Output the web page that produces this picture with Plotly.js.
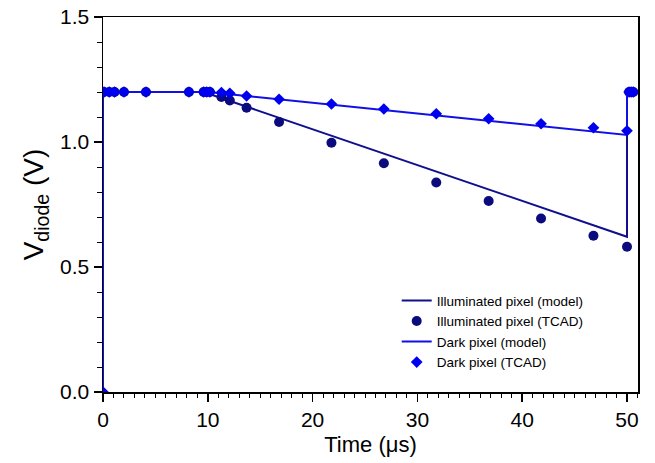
<!DOCTYPE html>
<html>
<head>
<meta charset="utf-8">
<script src="https://cdn.plot.ly/plotly-3.0.1.min.js"></script>
<style>html,body{margin:0;padding:0;background:#fff;}#chart{width:655px;height:463px;}</style>
</head>
<body>
<div id="chart"></div>
<script>
// Model curves (time in µs, voltage in V)
const illumModelT = [0, 0, 9.6, 50, 50, 50.6];
const illumModelV = [0, 1.2, 1.2, 0.621, 1.2, 1.2];
const darkModelT  = [0, 0, 10, 50, 50, 50.6];
const darkModelV  = [0, 1.2, 1.2, 1.028, 1.2, 1.2];

// TCAD simulation points
const illumTcadT = [0.1, 0.6, 1.1, 2.0, 4.1, 8.2, 9.6, 9.9, 10.2, 11.3, 12.1, 13.7, 16.8, 21.8, 26.8, 31.8, 36.8, 41.8, 46.8, 50.0, 50.2, 50.4, 50.6];
const illumTcadV = [1.2, 1.2, 1.2, 1.2, 1.2, 1.2, 1.2, 1.2, 1.2, 1.18, 1.166, 1.137, 1.08, 0.997, 0.915, 0.838, 0.764, 0.694, 0.625, 0.581, 1.2, 1.2, 1.2];
const darkTcadT  = [0, 0.1, 0.6, 1.1, 2.0, 4.1, 8.2, 9.6, 9.9, 10.2, 11.3, 12.1, 13.7, 16.8, 21.8, 26.8, 31.8, 36.8, 41.8, 46.8, 50.0, 50.2, 50.4, 50.6];
const darkTcadV  = [0, 1.2, 1.2, 1.2, 1.2, 1.2, 1.2, 1.2, 1.2, 1.2, 1.198, 1.195, 1.184, 1.171, 1.152, 1.132, 1.113, 1.093, 1.073, 1.057, 1.045, 1.2, 1.2, 1.2];

const xTicks = [0, 10, 20, 30, 40, 50];
const yTicks = [0.0, 0.5, 1.0, 1.5];

const NAVY = '#0b0b7d';
const NAVYLINE = '#10108e';
const BLUE = '#0000f0';
const BLUELINE = '#1010e6';
const FONT = 'Liberation Sans, Arial, sans-serif';

const traces = [
  {x: illumModelT, y: illumModelV, mode: 'lines', name: 'Illuminated pixel (model)',
   line: {color: NAVYLINE, width: 2}},
  {x: illumTcadT, y: illumTcadV, mode: 'markers', name: 'Illuminated pixel (TCAD)',
   marker: {symbol: 'circle', size: 10, color: NAVY}},
  {x: darkModelT, y: darkModelV, mode: 'lines', name: 'Dark pixel (model)',
   line: {color: BLUELINE, width: 2}},
  {x: darkTcadT, y: darkTcadV, mode: 'markers', name: 'Dark pixel (TCAD)',
   marker: {symbol: 'diamond', size: 9, color: BLUE}}
];

const tickFont = {family: FONT, size: 21, color: '#000'};

const layout = {
  width: 655, height: 463,
  margin: {l: 103, r: 17, t: 17, b: 71},
  paper_bgcolor: '#fff', plot_bgcolor: '#fff',
  showlegend: true,
  legend: {
    x: 0.549, y: 0.285, xanchor: 'left', yanchor: 'top',
    bgcolor: 'rgba(0,0,0,0)', borderwidth: 0,
    font: {family: FONT, size: 13.5, color: '#000'},
    itemwidth: 30, tracegroupgap: 0
  },
  xaxis: {
    range: [0, 51.05], tickvals: xTicks, ticktext: xTicks.map(String),
    ticks: 'outside', ticklen: 8, tickwidth: 1.5, tickcolor: '#000',
    minor: {dtick: 1, tick0: 0, ticks: 'outside', ticklen: 4, tickwidth: 1, tickcolor: '#000', showgrid: false},
    showline: true, linecolor: '#000', linewidth: 1.5, mirror: true,
    showgrid: false, zeroline: false,
    tickfont: tickFont,
    title: {text: 'Time (μs)', font: {family: FONT, size: 22, color: '#000'}, standoff: 7}
  },
  yaxis: {
    range: [0, 1.5], tickvals: yTicks, ticktext: yTicks.map(v => v.toFixed(1)),
    ticks: 'outside', ticklen: 8, tickwidth: 1.5, tickcolor: '#000',
    minor: {dtick: 0.1, tick0: 0, ticks: 'outside', ticklen: 5, tickwidth: 1, tickcolor: '#000', showgrid: false},
    showline: true, linecolor: '#000', linewidth: 1.5, mirror: true,
    showgrid: false, zeroline: false,
    tickfont: tickFont,
    title: {text: 'V<sub>diode</sub> (V)', font: {family: FONT, size: 28, color: '#000'}, standoff: 8}
  }
};

Plotly.newPlot('chart', traces, layout, {staticPlot: true, displayModeBar: false});
</script>
</body>
</html>
